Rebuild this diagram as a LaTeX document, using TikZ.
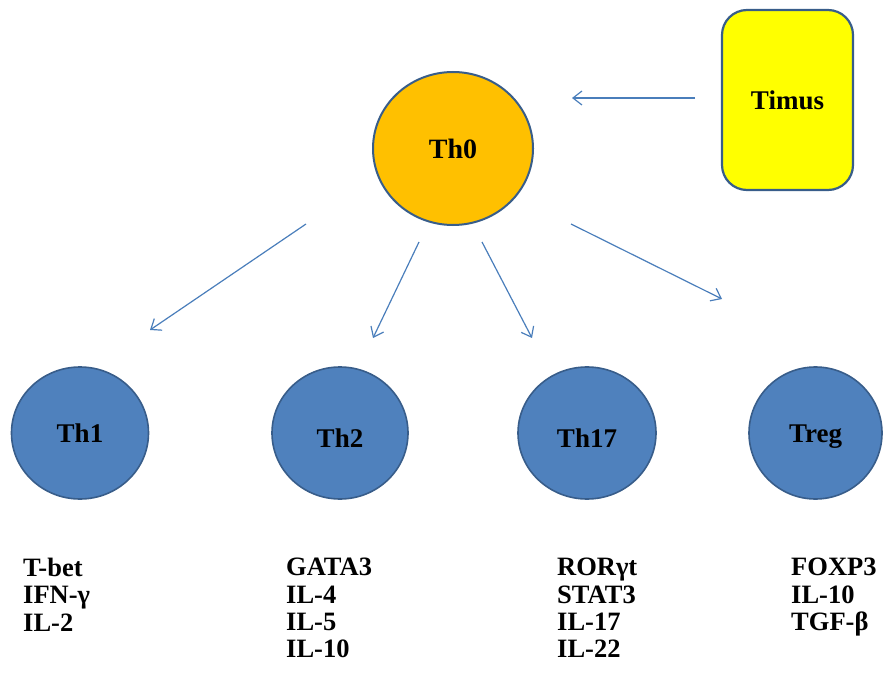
\documentclass[tikz,border=0pt]{standalone}
\usepackage{fontspec}
\setmainfont{Liberation Serif}
\usetikzlibrary{arrows.meta,shapes.geometric}
\definecolor{thblue}{HTML}{4F81BD}
\definecolor{thedge}{HTML}{385D8A}
\definecolor{orangefill}{HTML}{FFC000}
\definecolor{yellowfill}{HTML}{FFFF00}
\definecolor{arrowblue}{HTML}{4A7EBB}
\tikzset{
  cell/.style={ellipse, fill=thblue, draw=thedge, line width=1.6pt, font=\fontsize{27}{30}\selectfont\bfseries, inner sep=0pt, text height=19pt, text depth=0pt},
  lowcell/.style={cell, text height=29pt},
  list/.style={anchor=north west, align=left, inner sep=0pt, font=\fontsize{26.5}{27.3}\selectfont\bfseries},
  conn/.style={draw=arrowblue, line width=1.2pt, -{Straight Barb[length=9pt,width=14pt,line width=1.2pt]}}
}
\begin{document}
\begin{tikzpicture}[x=1pt,y=1pt]
\useasboundingbox (0,0) rectangle (886,-679);
% Th0
\node[ellipse, fill=orangefill, draw=thedge, line width=2pt, minimum width=160pt, minimum height=153pt, inner sep=0pt, font=\fontsize{28}{30}\selectfont\bfseries] (th0) at (453,-148.5) {Th0};
% Timus
\node[rectangle, rounded corners=25pt, fill=yellowfill, draw=thedge, line width=2.2pt, minimum width=131pt, minimum height=180pt, inner sep=0pt, font=\fontsize{27}{30}\selectfont\bfseries] (timus) at (787.5,-100) {Timus};
% Th cells
\node[cell, minimum width=137pt, minimum height=132pt] (th1) at (80,-433) {Th1};
\node[lowcell, minimum width=136pt, minimum height=132pt] (th2) at (340,-433) {Th2};
\node[lowcell, minimum width=138pt, minimum height=132pt] (th17) at (587,-433) {Th17};
\node[cell, minimum width=133pt, minimum height=132pt] (treg) at (815.5,-433) {Treg};
% lists
\node[list] (l1) at (23,-558) {T-bet\\IFN-γ\\IL-2};
\node[list] (l2) at (286,-558) {GATA3\\IL-4\\IL-5\\IL-10};
\node[list] (l3) at (557,-558) {RORγt\\STAT3\\IL-17\\IL-22};
\node[list] (l4) at (791,-558) {FOXP3\\IL-10\\TGF-β};
% arrow end points
\coordinate (t0s) at (695,-98);
\coordinate (t0e) at (572,-98);
\coordinate (a1s) at (306,-224);
\coordinate (a1e) at (150,-330);
\coordinate (a2s) at (419,-242);
\coordinate (a2e) at (373,-338);
\coordinate (a3s) at (482,-242);
\coordinate (a3e) at (532,-338);
\coordinate (a4s) at (571,-224);
\coordinate (a4e) at (722,-299);
\draw[conn] (t0s) -- (t0e);
\draw[conn] (a1s) -- (a1e);
\draw[conn] (a2s) -- (a2e);
\draw[conn] (a3s) -- (a3e);
\draw[conn] (a4s) -- (a4e);
\end{tikzpicture}
\end{document}
